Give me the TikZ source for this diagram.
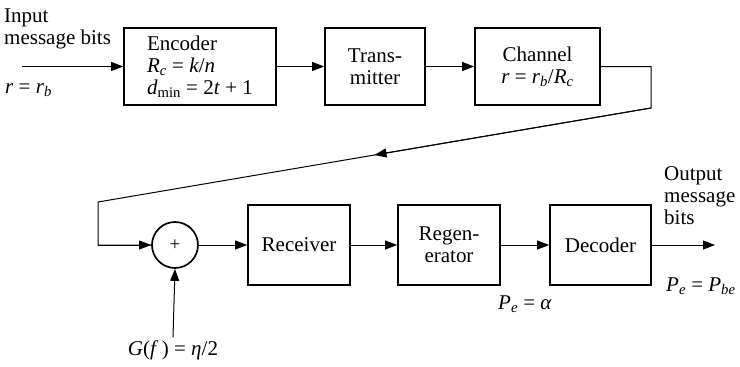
\documentclass[tikz,border=0pt]{standalone}
\usepackage{fontspec}
\setmainfont{Liberation Serif}
\usetikzlibrary{arrows.meta,calc}
\newcommand{\vi}[1]{\textit{#1}}
\begin{document}
\begin{tikzpicture}[x=1pt,y=-1pt,
  blk/.style={draw, line width=1.7pt, inner sep=0pt, align=center,
              font=\fontsize{21}{22}\selectfont},
  sig/.style={line width=1pt, -{Triangle[length=12pt,width=9pt]}},
  wire/.style={line width=1pt},
  lbl/.style={inner sep=0pt, font=\fontsize{21}{22}\selectfont}
]
\useasboundingbox (0,0) rectangle (740,367);

% upper row: encoder, transmitter, channel
\node[blk, minimum width=152pt, minimum height=77pt, align=left] (enc) at (200,66.5)
  {Encoder\\ \vi{R}\textsubscript{\vi{c}} = \vi{k}/\vi{n}\\ \vi{d}\textsubscript{min} = 2\vi{t} + 1};
\node[blk, minimum width=100pt, minimum height=77pt] (tx) at (375,66.5) {Trans-\\mitter};
\node[blk, minimum width=125pt, minimum height=77pt] (ch) at (537.5,66.5)
  {Channel\\ \vi{r} = \vi{r}\textsubscript{\vi{b}}/\vi{R}\textsubscript{\vi{c}}};

% lower row: summing junction, receiver, regenerator, decoder
\node[draw, circle, line width=1.7pt, minimum size=46pt, inner sep=0pt,
      font=\fontsize{19}{19}\selectfont] (sum) at (175,245) {+};
\node[blk, minimum width=102pt, minimum height=80pt] (rx) at (299,245) {Receiver};
\node[blk, minimum width=102pt, minimum height=80pt] (rg) at (449,245) {Regen-\\erator};
\node[blk, minimum width=101pt, minimum height=80pt] (dec) at (600.5,245) {Decoder};

% labels
\node[lbl, align=left, anchor=west] (inlbl) at (4,28.5) {Input\\message bits};
\node[lbl, anchor=west] (rin) at (5,90) {\vi{r} = \vi{r}\textsubscript{\vi{b}}};
\node[lbl, align=left, anchor=west] (outlbl) at (664,195.5) {Output\\message\\bits};
\node[lbl, anchor=west] (pbe) at (666,286) {\vi{P}\textsubscript{\vi{e}} = \vi{P}\textsubscript{\vi{be}}};
\node[lbl] (pa) at (525,304) {\vi{P}\textsubscript{\vi{e}} = \vi{α}};
\node[lbl, inner sep=3pt] (gf) at (173,350) {\vi{G}(\vi{f}\,) = \vi{η}/2};

% connection points
\coordinate (in) at (22,66.5);
\coordinate (cr) at (651,108);
\coordinate (cl) at (98,202);
\coordinate (out) at (715,245);

% signal path
\draw[sig] (in) -- (enc);
\draw[sig] (enc) -- (tx);
\draw[sig] (tx) -- (ch);
\draw[wire] (ch.east) -| (cr) -- (cl) |- (sum.west);
\draw[sig] (cl |- sum.west) -- (sum.west);
\draw[sig] (cr) -- ($(cr)!0.5!(cl)$);
\draw[sig] (sum) -- (rx);
\draw[sig] (rx) -- (rg);
\draw[sig] (rg) -- (dec);
\draw[sig] (dec) -- (out);
\draw[sig] (gf.north) -- (sum.south);
\end{tikzpicture}
\end{document}
